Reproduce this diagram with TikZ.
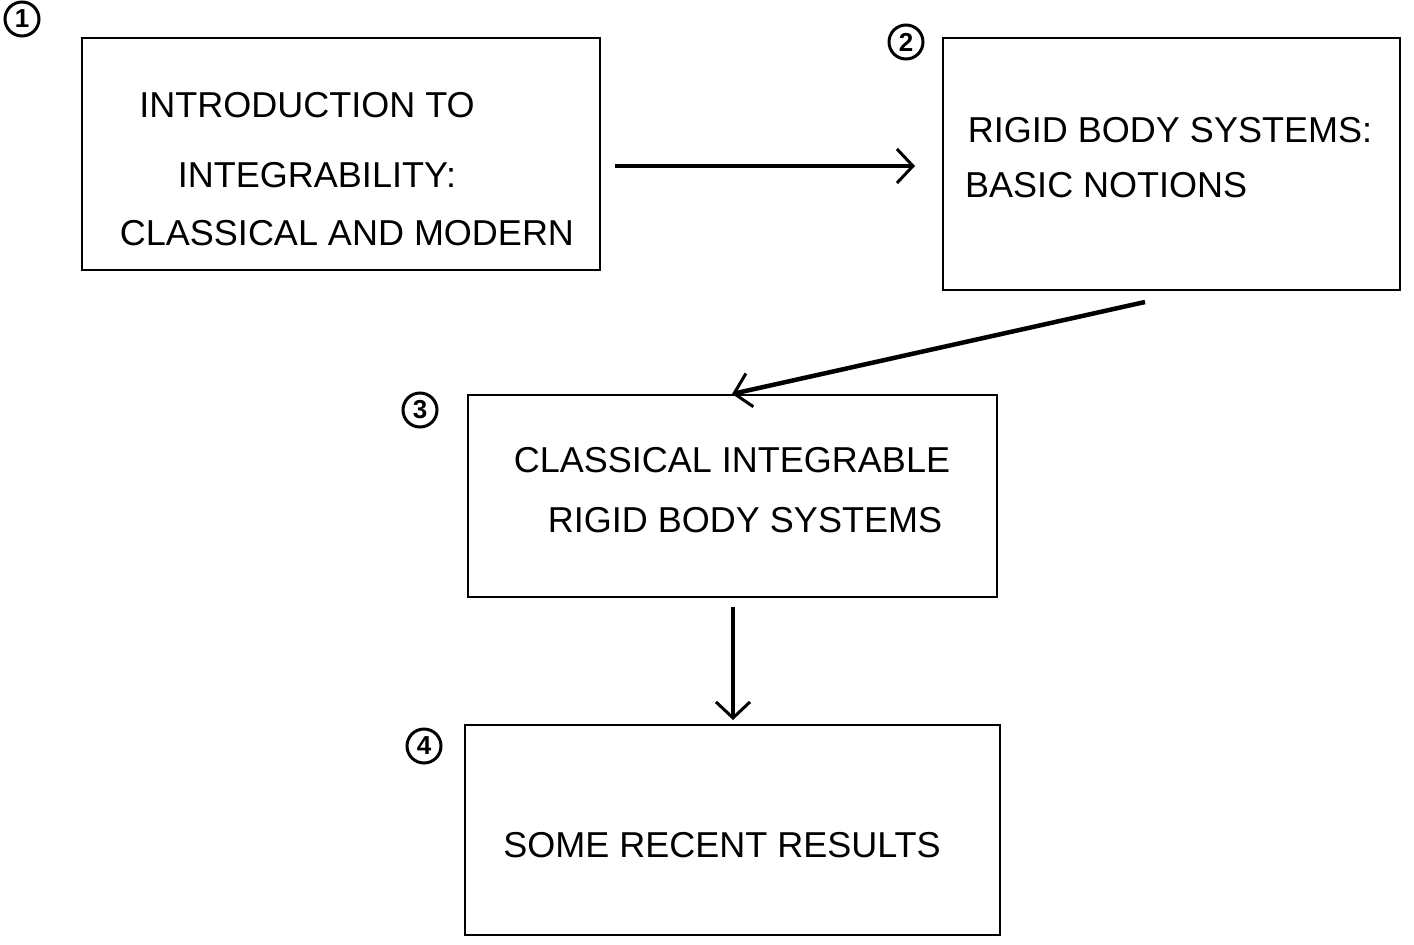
\documentclass[tikz,border=0pt]{standalone}
\usepackage{fontspec}
\setmainfont{Liberation Sans}
\usetikzlibrary{arrows.meta}
\begin{document}
\begin{tikzpicture}[x=1pt,y=-1pt,
  box/.style={draw,line width=2pt,inner sep=0pt},
  txt/.style={inner sep=0pt,font=\fontsize{36}{40}\selectfont},
  num/.style={draw,circle,line width=3pt,minimum size=34pt,inner sep=0pt,font=\fontsize{26}{26}\selectfont\bfseries},
  conn/.style={line width=4.5pt,-{Straight Barb[length=16pt,width=34pt,line width=3pt]}}]
\useasboundingbox (0,0) rectangle (1414,945);
\node[box,minimum width=518pt,minimum height=232pt] (b1) at (341,154) {};
\node[box,minimum width=457pt,minimum height=252pt] (b2) at (1171,164) {};
\node[box,minimum width=529pt,minimum height=202pt] (b3) at (732,496) {};
\node[box,minimum width=535pt,minimum height=210pt] (b4) at (732,830) {};
\node[txt] (t1a) at (307,105) {INTRODUCTION TO};
\node[txt] (t1b) at (317,175) {INTEGRABILITY:};
\node[txt] (t1c) at (347,233) {CLASSICAL AND MODERN};
\node[txt] (t2a) at (1170,130) {RIGID BODY SYSTEMS:};
\node[txt,anchor=west] (t2b) at (965,185) {BASIC NOTIONS};
\node[txt] (t3a) at (732,460) {CLASSICAL INTEGRABLE};
\node[txt] (t3b) at (745,520) {RIGID BODY SYSTEMS};
\node[txt] (t4) at (722,845) {SOME RECENT RESULTS};
\node[num] (n1) at (22,19) {1};
\node[num] (n2) at (906,42) {2};
\node[num] (n3) at (420,410) {3};
\node[num] (n4) at (424,746) {4};
\coordinate (a1s) at (615,166);
\coordinate (a1e) at (915,166);
\coordinate (a2s) at (1145,302);
\coordinate (a2e) at (732,394);
\coordinate (a3s) at (733,607);
\coordinate (a3e) at (733,720);
\draw[conn] (a1s) -- (a1e);
\draw[conn] (a2s) -- (a2e);
\draw[conn] (a3s) -- (a3e);
\end{tikzpicture}
\end{document}
